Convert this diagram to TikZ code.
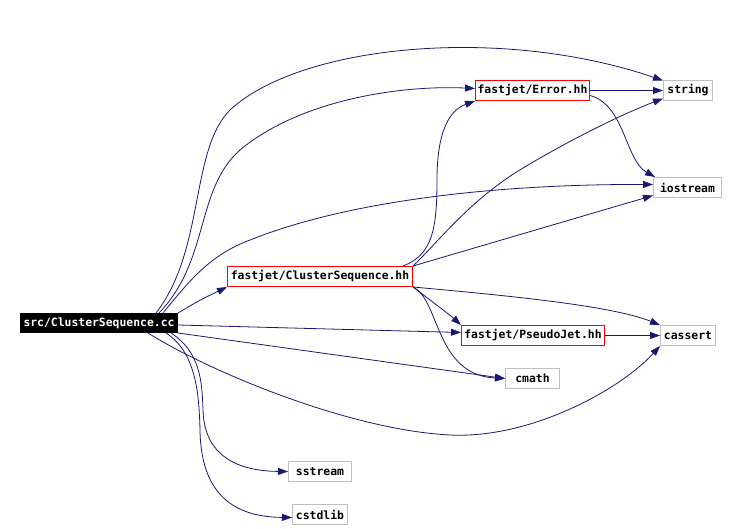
\documentclass[tikz,border=0pt]{standalone}
\usepackage{fontspec}
\setmonofont{DejaVu Sans Mono}
\usepackage{tikz}
\usetikzlibrary{positioning, arrows.meta}
\definecolor{edgeblue}{RGB}{25,25,112}
\definecolor{boxgray}{RGB}{191,191,191}
\tikzset{Node style/.style={draw, line width=1pt, inner sep=0pt, minimum height=20pt, font=\fontsize{11.4}{12}\selectfont\ttfamily\bfseries}}
\tikzset{Main style/.style={Node style, fill=black, draw=black, text=white, minimum height=19pt}}
\tikzset{Header style/.style={Node style, draw=red}}
\tikzset{System style/.style={Node style, draw=boxgray}}
\tikzset{Edge style/.style={draw=edgeblue, line width=0.8pt}}
\tikzset{
	->, % arcos dirigidos
	>={Triangle[length=10pt, width=7pt]}, % puntas rellenas
	x=1pt, y=-1pt, % un punto por pixel
}

\begin{document}
\begin{tikzpicture}
        \useasboundingbox (0,0) rectangle (737,529);
        \node[Main style, minimum width=157pt] (src_cc) at (99,323) {src/ClusterSequence.cc};
        \node[Header style, minimum width=185pt] (cluster_seq) at (320,276.5) {fastjet/ClusterSequence.hh};
        \node[Header style, minimum width=114pt] (error_hh) at (532.5,90.5) {fastjet/Error.hh};
        \node[Header style, minimum width=143pt] (pseudo_jet) at (533,335.5) {fastjet/PseudoJet.hh};
        \node[System style, minimum width=49pt] (string) at (688,90.5) {string};
        \node[System style, minimum width=68pt] (iostream) at (687.5,187.5) {iostream};
        \node[System style, minimum width=55pt] (cassert) at (688,335.5) {cassert};
        \node[System style, minimum width=54pt] (cmath) at (532.5,378.5) {cmath};
        \node[System style, minimum width=63pt] (sstream) at (320,471.5) {sstream};
        \node[System style, minimum width=55pt] (cstdlib) at (320,514.5) {cstdlib};

        % desde src/ClusterSequence.cc
        \draw[Edge style] ([xshift=-22pt]src_cc.north east) .. controls (205,250) and (190,150) .. (230,110)
              .. controls (300,45) and (500,25) .. ([yshift=10pt]string.west);
        \draw[Edge style] ([xshift=-19pt]src_cc.north east) .. controls (210,260) and (195,190) .. (240,150)
              .. controls (300,100) and (400,85) .. ([yshift=2pt]error_hh.west);
        \draw[Edge style] ([xshift=-15pt]src_cc.north east) .. controls (190,280) and (210,255) .. (250,240)
              .. controls (350,200) and (500,184) .. ([yshift=3pt]iostream.west);
        \draw[Edge style] (src_cc.north east) .. controls (200,300) .. (cluster_seq.south west);
        \draw[Edge style] ([yshift=-2pt]src_cc.east) -- ([yshift=3pt]pseudo_jet.west);
        \draw[Edge style] (src_cc.south east) -- (cmath.west);
        \draw[Edge style] ([xshift=-30pt]src_cc.south east) .. controls (210,372) and (350,430) .. (450,435)
              .. controls (530,439) and (620,390) .. (cassert.south west);
        \draw[Edge style] ([xshift=-7pt]src_cc.south east) .. controls (200,352) and (202,380) .. (203,410)
              .. controls (204,450) and (230,471) .. (sstream.west);
        \draw[Edge style] ([xshift=-12pt]src_cc.south east) .. controls (195,352) and (199,390) .. (200,430)
              .. controls (201,500) and (240,517) .. ([yshift=-3pt]cstdlib.west);

        % desde fastjet/ClusterSequence.hh
        \draw[Edge style] ([xshift=-10pt]cluster_seq.north east) .. controls (432,255) and (437,230) .. (437,180)
              .. controls (437,130) and (450,110) .. (error_hh.south west);
        \draw[Edge style] (cluster_seq.north east) .. controls (440,240) and (470,200) .. (523,168)
              .. controls (570,140) and (620,115) .. ([yshift=-8pt]string.west);
        \draw[Edge style] (cluster_seq.north east) -- ([yshift=-8pt]iostream.west);
        \draw[Edge style] (cluster_seq.south east) .. controls (500,295) and (610,305) .. (cassert.north west);
        \draw[Edge style] (cluster_seq.south east) .. controls (430,300) and (450,315) .. (pseudo_jet.north west);
        \draw[Edge style] (cluster_seq.south east) .. controls (440,300) and (435,375) .. (cmath.west);

        % cabeceras restantes
        \draw[Edge style] (error_hh.east) -- (string.west);
        \draw[Edge style] ([yshift=-5pt]error_hh.east) .. controls (625,105) and (625,160) .. ([xshift=2pt]iostream.north west);
        \draw[Edge style] (pseudo_jet.east) -- (cassert.west);
\end{tikzpicture}
\end{document}
